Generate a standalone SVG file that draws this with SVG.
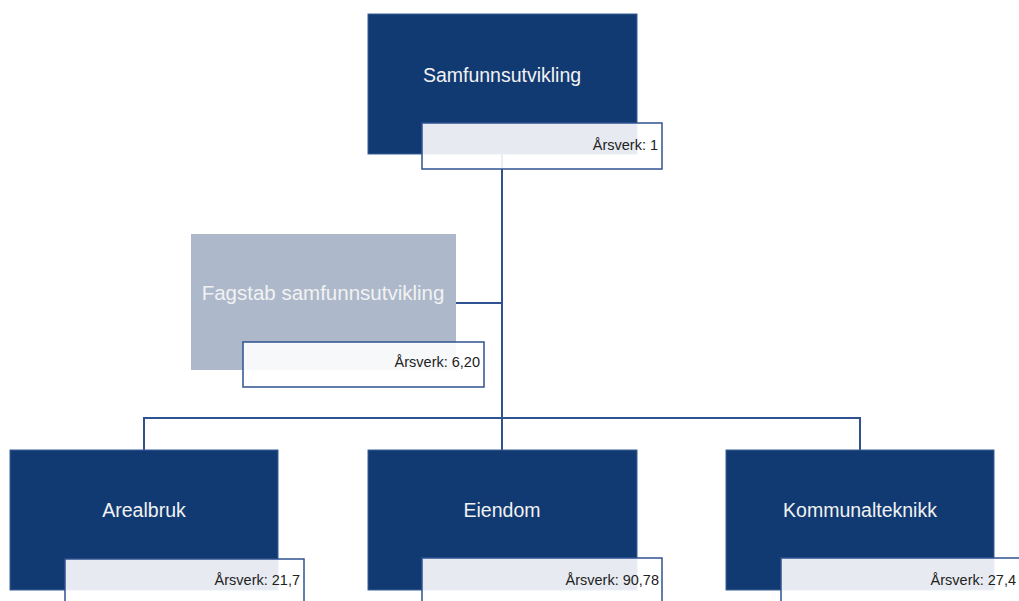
<svg xmlns="http://www.w3.org/2000/svg" width="1019" height="601" viewBox="0 0 1019 601">
<style>
.dark{fill:#113a72;stroke:#3a5f96;stroke-width:1}
.light{fill:#adb9cb}
.lbl{fill:#ffffff;fill-opacity:0.9;stroke:#2f5290;stroke-width:1.5}
.t{font-family:"Liberation Sans",Arial,sans-serif;font-size:19.5px;fill:#f2f2f2;text-anchor:middle}
.a{font-family:"Liberation Sans",Arial,sans-serif;font-size:14.5px;fill:#222222;text-anchor:end}
.c{fill:none;stroke:#2f5290;stroke-width:2}
</style>
<rect width="1019" height="601" fill="#ffffff"/>
<g id="connectors">
<path class="c" d="M502 154 V418"/>
<path class="c" d="M456 303 H502"/>
<path class="c" d="M144 450 V418 H860 V450"/>
<path class="c" d="M502 418 V450"/>
</g>
<g id="samfunnsutvikling">
<rect class="dark" x="368" y="14" width="269" height="140"/>
<text class="t" x="502" y="82">Samfunnsutvikling</text>
<rect class="lbl" x="422" y="123" width="240" height="46"/>
<text class="a" x="658" y="150">Årsverk: 1</text>
</g>
<g id="fagstab">
<rect class="light" x="191" y="234" width="265" height="136"/>
<text class="t" x="323" y="300" style="font-size:20.5px">Fagstab samfunnsutvikling</text>
<rect class="lbl" x="243" y="342" width="241" height="45"/>
<text class="a" x="480" y="367">Årsverk: 6,20</text>
</g>
<g id="arealbruk">
<rect class="dark" x="10" y="450" width="268" height="140"/>
<text class="t" x="144" y="517">Arealbruk</text>
<rect class="lbl" x="65" y="559" width="239" height="50"/>
<text class="a" x="300" y="585">Årsverk: 21,7</text>
</g>
<g id="eiendom">
<rect class="dark" x="368" y="450" width="269" height="140"/>
<text class="t" x="502" y="517">Eiendom</text>
<rect class="lbl" x="422" y="558" width="240" height="50"/>
<text class="a" x="659" y="585">Årsverk: 90,78</text>
</g>
<g id="kommunalteknikk">
<rect class="dark" x="726" y="450" width="268" height="140"/>
<text class="t" x="860" y="517">Kommunalteknikk</text>
<rect class="lbl" x="781" y="558" width="250" height="50"/>
<text class="a" x="1016" y="585">Årsverk: 27,4</text>
</g>
</svg>
